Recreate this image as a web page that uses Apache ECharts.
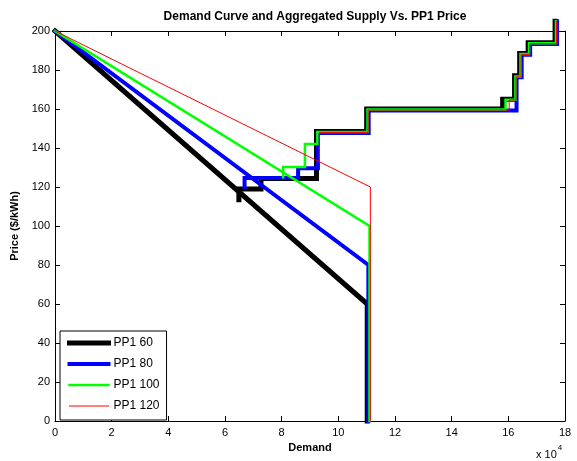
<!DOCTYPE html>
<html>
<head>
<meta charset="utf-8">
<script src="https://cdn.jsdelivr.net/npm/echarts@6/dist/echarts.min.js"></script>
<style>
  html, body { margin: 0; padding: 0; background: #fff; }
  #chart { width: 577px; height: 461px; }
</style>
</head>
<body>
<div id="chart"></div>
<script>
// Demand in units of 1e4, price in $/kWh
const seriesNames = ['PP1 60', 'PP1 80', 'PP1 100', 'PP1 120'];
const seriesColors = ['#000000', '#0000ff', '#00ff00', '#ff0000'];
const lineWidths = [5, 4, 2.5, 1];

// Linear demand curves: price falls from 200 to the PP1 level, then drops vertically
const demandBlack = [[0, 200], [11.02, 60], [11.02, 0]];
const demandBlue  = [[0, 200], [11.06, 80], [11.06, 0]];
const demandGreen = [[0, 200], [11.10, 100], [11.10, 0]];
const demandRed   = [[0, 200], [11.13, 120], [11.13, 0]];

// Aggregated supply step curves
const supplyBlack = [[6.49, 113.5], [6.49, 119], [7.27, 119], [7.27, 124.3], [9.23, 124.3],
  [9.23, 148.5], [11.0, 148.5], [11.0, 160], [15.8, 160], [15.8, 165], [16.22, 165],
  [16.22, 177], [16.4, 177], [16.4, 188.5], [16.7, 188.5], [16.7, 194], [17.65, 194], [17.65, 205]];
const supplyBlue = [[6.69, 120], [6.69, 124.6], [8.58, 124.6], [8.58, 129.6], [9.28, 129.6],
  [9.28, 147.7], [11.07, 147.7], [11.07, 159.2], [16.29, 159.2],
  [16.29, 176.3], [16.47, 176.3], [16.47, 187.8], [16.77, 187.8], [16.77, 193.3], [17.72, 193.3], [17.72, 205]];
const supplyGreen = [[8.05, 125], [8.05, 130.3], [8.82, 130.3], [8.82, 142], [9.26, 142],
  [9.26, 148.2], [11.03, 148.2], [11.03, 159.7], [15.9, 159.7], [15.9, 164.7], [16.25, 164.7],
  [16.25, 176.7], [16.43, 176.7], [16.43, 188.2], [16.73, 188.2], [16.73, 193.7], [17.68, 193.7], [17.68, 205]];
const supplyRed = [[9.33, 133.5], [9.33, 148], [11.05, 148], [11.05, 159.5], [16.03, 159.5],
  [16.03, 164.6], [16.27, 164.6], [16.27, 176.5], [16.45, 176.5], [16.45, 188], [16.75, 188],
  [16.75, 193.5], [17.7, 193.5], [17.7, 205]];

const xTicks = { min: 0, max: 18, interval: 2 };
const yTicks = { min: 0, max: 200, interval: 20 };

const demandSets = [demandBlack, demandBlue, demandGreen, demandRed];
const supplySets = [supplyBlack, supplyBlue, supplyGreen, supplyRed];

const font = 'Liberation Sans, Arial, sans-serif';

function lineSeries(name, data, color, width) {
  return {
    name: name,
    type: 'line',
    data: data,
    showSymbol: false,
    symbol: 'none',
    clip: false,
    animation: false,
    lineStyle: { color: color, width: width, cap: 'square', join: 'miter' },
    itemStyle: { color: color }
  };
}

const series = [];
for (let i = 0; i < 4; i++) {
  series.push(lineSeries(seriesNames[i], supplySets[i], seriesColors[i], lineWidths[i]));
}
for (let i = 0; i < 4; i++) {
  series.push(lineSeries(seriesNames[i], demandSets[i], seriesColors[i], lineWidths[i]));
}
// demand curves drawn above supply, red last
series.forEach((s, k) => { s.z = 2 + k * 0.1; });

const tickStyle = { show: true, inside: true, length: 5, lineStyle: { color: '#000', width: 1 } };
const axisLine = { show: true, onZero: false, lineStyle: { color: '#000', width: 1 } };
const labelStyle = { color: '#000', fontSize: 11, fontFamily: font };

const chart = echarts.init(document.getElementById('chart'), null, { renderer: 'canvas' });
chart.setOption({
  backgroundColor: '#fff',
  animation: false,
  title: {
    text: 'Demand Curve and Aggregated Supply Vs. PP1 Price',
    left: 310, top: 6, textAlign: 'center',
    textStyle: { fontSize: 12, fontWeight: 'bold', color: '#000', fontFamily: font }
  },
  grid: { left: 55, top: 31, right: 12, bottom: 40, containLabel: false },
  legend: {
    show: true,
    z: 20,
    data: seriesNames.map((n, i) => ({
      name: n,
      itemStyle: { color: seriesColors[i], opacity: 0, borderWidth: 0 },
      lineStyle: { color: seriesColors[i], width: lineWidths[i], opacity: 1 }
    })),
    orient: 'vertical',
    left: 60, top: 331,
    backgroundColor: '#fff',
    borderColor: '#000', borderWidth: 1,
    padding: [6, 7, 8, 7],
    itemWidth: 39, itemHeight: 12, itemGap: 9,
    textStyle: { fontSize: 12, color: '#000', fontFamily: font },
    selectedMode: false
  },
  xAxis: [
    Object.assign({ type: 'value', position: 'bottom',
      name: 'Demand', nameLocation: 'middle', nameGap: 21,
      nameTextStyle: { fontSize: 11, fontWeight: 'bold', color: '#000', fontFamily: font },
      axisLine: axisLine, axisTick: tickStyle,
      axisLabel: Object.assign({ margin: 6 }, labelStyle),
      splitLine: { show: false } }, xTicks),
    Object.assign({ type: 'value', position: 'top',
      axisLine: axisLine, axisTick: tickStyle,
      axisLabel: { show: false }, splitLine: { show: false } }, xTicks)
  ],
  yAxis: [
    Object.assign({ type: 'value', position: 'left',
      name: 'Price ($/kWh)', nameLocation: 'middle', nameGap: 28,
      nameTextStyle: { fontSize: 11, fontWeight: 'bold', color: '#000', fontFamily: font },
      axisLine: axisLine, axisTick: tickStyle,
      axisLabel: Object.assign({ margin: 5 }, labelStyle),
      splitLine: { show: false } }, yTicks),
    Object.assign({ type: 'value', position: 'right',
      axisLine: axisLine, axisTick: tickStyle,
      axisLabel: { show: false }, splitLine: { show: false } }, yTicks)
  ],
  graphic: [{
    type: 'text',
    left: 536, top: 444,
    style: {
      text: '{b|x 10}{s|4}',
      rich: {
        b: { fontSize: 11, fontFamily: font, fill: '#000', verticalAlign: 'bottom' },
        s: { fontSize: 8, fontFamily: font, fill: '#000', padding: [0, 0, 8, 1] }
      }
    }
  }],
  series: series
});
</script>
</body>
</html>
